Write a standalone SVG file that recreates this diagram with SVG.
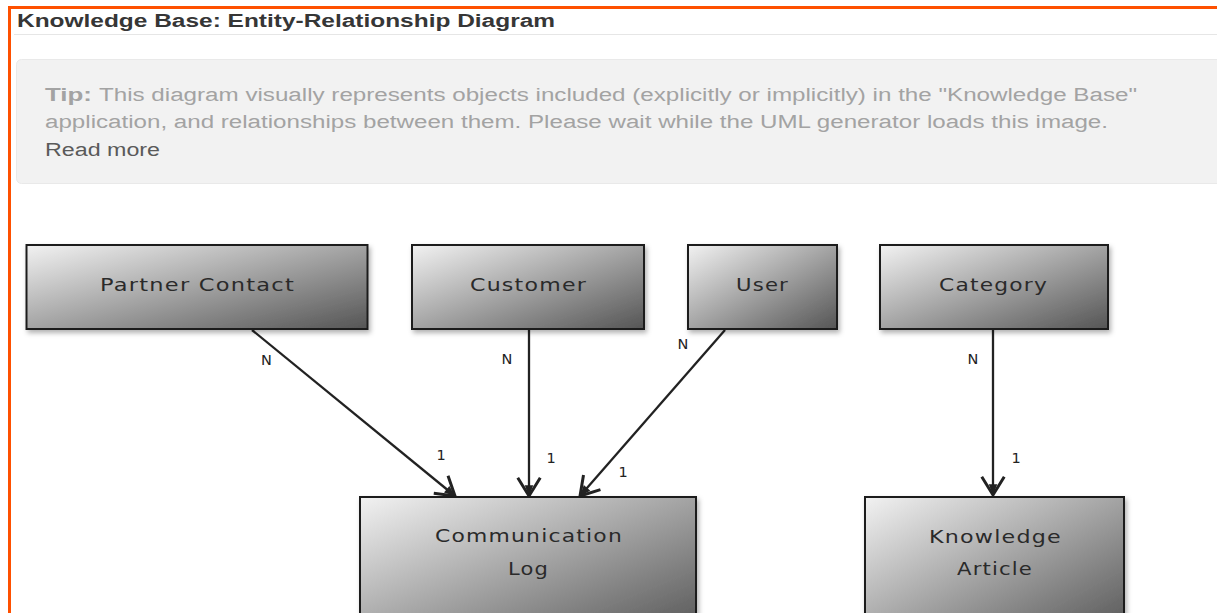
<svg xmlns="http://www.w3.org/2000/svg" width="1217" height="613" viewBox="0 0 1217 613">
<style>
.title{font-family:"Liberation Sans",Arial,sans-serif;font-weight:bold;font-size:17.5px;fill:#363636}
.tip{font-family:"Liberation Sans",Arial,sans-serif;font-size:18px;fill:#a3a3a3}
.tipb{font-weight:bold}
.more{font-family:"Liberation Sans",Arial,sans-serif;font-size:18px;fill:#5a5a5a}
.box{fill:url(#g);stroke:#1e1e1e;stroke-width:2;filter:url(#sh)}
.lbl{font-family:"DejaVu Sans",Verdana,sans-serif;font-size:18px;letter-spacing:1px;fill:#2a2a2a;text-anchor:middle}
.card{font-family:"DejaVu Sans",Verdana,sans-serif;font-size:14.5px;fill:#222;text-anchor:middle}
.con{stroke:#222;stroke-width:2.3;fill:none;marker-end:url(#arr)}
</style>
<defs>
<linearGradient id="g" x1="0" y1="0" x2="1" y2="1">
<stop offset="0" stop-color="#f2f2f2"/>
<stop offset="1" stop-color="#555"/>
</linearGradient>
<filter id="sh" x="-10%" y="-10%" width="125%" height="130%">
<feDropShadow dx="2" dy="3" stdDeviation="2.5" flood-color="#000" flood-opacity="0.3"/>
</filter>
<marker id="arr" markerUnits="userSpaceOnUse" markerWidth="30" markerHeight="30" viewBox="-20 -14 24 28" refX="0" refY="0" orient="auto">
<path d="M-17,-10.5 L0,0 L-17,10.5" fill="none" stroke="#222" stroke-width="2.8" stroke-linejoin="miter"/>
<path d="M-10,-4 L0,0 L-10,4 Z" fill="#222"/>
</marker>
</defs>
<rect width="1217" height="613" fill="#fff"/>
<line x1="9.5" y1="6" x2="9.5" y2="613" stroke="#fe5000" stroke-width="3"/>
<line x1="8" y1="7.5" x2="1217" y2="7.5" stroke="#fe5000" stroke-width="3"/>
<text class="title" x="17" y="27" textLength="538" lengthAdjust="spacingAndGlyphs">Knowledge Base: Entity-Relationship Diagram</text>
<line x1="14" y1="34.5" x2="1217" y2="34.5" stroke="#e6e6e6" stroke-width="1"/>
<rect x="16.5" y="59.5" width="1215" height="124" rx="5" fill="#f2f2f2" stroke="#e9e9e9"/>
<text class="tip tipb" x="45" y="101" textLength="47" lengthAdjust="spacingAndGlyphs">Tip:</text>
<text class="tip" x="99" y="101" textLength="1038" lengthAdjust="spacingAndGlyphs">This diagram visually represents objects included (explicitly or implicitly) in the "Knowledge Base"</text>
<text class="tip" x="45" y="128" textLength="1063" lengthAdjust="spacingAndGlyphs">application, and relationships between them. Please wait while the UML generator loads this image.</text>
<text class="more" x="45" y="156" textLength="115" lengthAdjust="spacingAndGlyphs">Read more</text>
<g id="connectors">
<line class="con" x1="252" y1="330" x2="455" y2="496"/>
<line class="con" x1="529" y1="330" x2="529" y2="496"/>
<line class="con" x1="725" y1="330" x2="580" y2="496"/>
<line class="con" x1="993" y1="330" x2="993" y2="495"/>
<text class="card" x="266.5" y="365">N</text>
<text class="card" x="441" y="460">1</text>
<text class="card" x="507" y="364">N</text>
<text class="card" x="551" y="463">1</text>
<text class="card" x="683" y="349">N</text>
<text class="card" x="623" y="477">1</text>
<text class="card" x="973" y="364">N</text>
<text class="card" x="1016" y="463">1</text>
</g>
<g id="partner-contact">
<rect class="box" x="26.5" y="245" width="341" height="84"/>
<text class="lbl" x="197.5" y="291" textLength="195" lengthAdjust="spacingAndGlyphs">Partner Contact</text>
</g>
<g id="customer">
<rect class="box" x="412" y="245" width="232" height="84"/>
<text class="lbl" x="528.5" y="291" textLength="117" lengthAdjust="spacingAndGlyphs">Customer</text>
</g>
<g id="user">
<rect class="box" x="688" y="245" width="149" height="84"/>
<text class="lbl" x="762.5" y="291" textLength="53" lengthAdjust="spacingAndGlyphs">User</text>
</g>
<g id="category">
<rect class="box" x="880" y="245" width="228" height="84"/>
<text class="lbl" x="993.5" y="291" textLength="109" lengthAdjust="spacingAndGlyphs">Category</text>
</g>
<g id="communication-log">
<rect class="box" x="360" y="497" width="336" height="140"/>
<text class="lbl" x="529" y="542" textLength="188" lengthAdjust="spacingAndGlyphs">Communication</text>
<text class="lbl" x="528.5" y="575" textLength="41" lengthAdjust="spacingAndGlyphs">Log</text>
</g>
<g id="knowledge-article">
<rect class="box" x="865" y="497" width="259" height="140"/>
<text class="lbl" x="995.5" y="543" textLength="133" lengthAdjust="spacingAndGlyphs">Knowledge</text>
<text class="lbl" x="995" y="575" textLength="76" lengthAdjust="spacingAndGlyphs">Article</text>
</g>
</svg>
